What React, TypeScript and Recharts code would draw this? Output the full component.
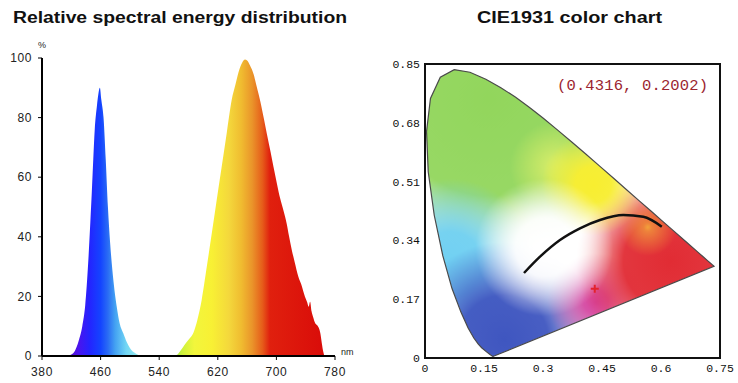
import React from 'react';
import {
  Area,
  ComposedChart,
  Line,
  ReferenceArea,
  Scatter,
  XAxis,
  YAxis,
} from 'recharts';

// spectral power distribution (nm, relative %)
const SPEC_NM = [
  380, 410, 415, 420, 425, 430, 435, 439, 443, 446, 448, 450, 452, 455, 457, 459, 461, 464, 467,
  470, 473, 476, 479, 482, 486, 491, 496, 502, 508, 515, 560, 565, 568, 572, 577, 582, 587, 592,
  598, 605, 612, 618, 625, 632, 639, 644, 648, 652, 657, 660, 664, 669, 673, 678, 683, 687, 692,
  696, 701, 705, 710, 714, 717, 721, 725, 730, 734, 739, 742, 744, 746, 748, 750, 753, 756, 760,
  762, 764, 766, 780,
];
const SPEC_VAL = [
  0, 0, 0, 0.5, 1.8, 5, 10, 17, 31, 45, 55, 66, 76, 84, 88, 90, 86, 80, 66,
  50, 38, 29, 22, 16.6, 11, 7.6, 4.5, 2, 0.8, 0, 0, 0.5, 1.4, 2.8, 4.5, 6, 8, 12,
  18.8, 30, 41.5, 51.5, 63, 74.5, 86, 91, 95, 97.8, 99.5, 99.2, 97.5, 94.5, 90.5, 85.5, 79.5, 74.5, 68.5,
  63.5, 57.5, 53, 48.5, 44.5, 40.5, 35.6, 31.5, 26.6, 24, 19.9, 18, 16.5, 18.2, 15, 13.2, 11, 10.2, 7.6,
  4.3, 1.4, 0, 0,
];
const SPEC_TICKS = [380, 460, 540, 620, 700, 780];
const PCT_TICKS = [0, 20, 40, 60, 80, 100];

// CIE 1931 spectral locus
const LOCUS_X = [
  0.1741, 0.1738, 0.1733, 0.1726, 0.1714, 0.1689, 0.1644, 0.1566, 0.144, 0.1355, 0.1241, 0.1096,
  0.0913, 0.0687, 0.0454, 0.0235, 0.0082, 0.0039, 0.0139, 0.0389, 0.0743, 0.1142, 0.1547, 0.1929,
  0.2296, 0.2658, 0.3016, 0.3373, 0.3731, 0.4087, 0.4441, 0.4788, 0.5125, 0.5448, 0.5752, 0.6029,
  0.627, 0.6658, 0.6915, 0.7079, 0.719, 0.726, 0.73, 0.7334, 0.7347,
];
const LOCUS_Y = [
  0.005, 0.0049, 0.0048, 0.0048, 0.0051, 0.0069, 0.0109, 0.0177, 0.0297, 0.0399, 0.0578, 0.0868,
  0.1327, 0.2007, 0.295, 0.4127, 0.5384, 0.6548, 0.7502, 0.812, 0.8338, 0.8262, 0.8059, 0.7816,
  0.7543, 0.7243, 0.6923, 0.6589, 0.6245, 0.5896, 0.5547, 0.5202, 0.4866, 0.4544, 0.4242, 0.3965,
  0.3725, 0.334, 0.3083, 0.292, 0.2809, 0.274, 0.27, 0.2666, 0.2653,
];

// black locus curve
const CURVE_X = [0.2517, 0.2924, 0.3432, 0.394, 0.4449, 0.504, 0.555, 0.602];
const CURVE_Y = [0.2457, 0.2929, 0.3412, 0.375, 0.399, 0.4134, 0.4085, 0.3797];

const POINT_X = 0.4316;
const POINT_Y = 0.2002;

const CIE_X_TICKS = [0, 0.15, 0.3, 0.45, 0.6, 0.75];
const CIE_Y_TICKS = [0, 0.17, 0.34, 0.51, 0.68, 0.85];

const specData = SPEC_NM.map((nm, i) => ({ nm, val: SPEC_VAL[i] }));
const locusData = LOCUS_X.map((x, i) => ({ x, y: LOCUS_Y[i] }));
const curveData = CURVE_X.map((x, i) => ({ x, y: CURVE_Y[i] }));
const pointData = [{ x: POINT_X, y: POINT_Y }];

const specStops: [number, string][] = [
  [415, '#5a10c8'],
  [430, '#4a14ee'],
  [445, '#2424ff'],
  [460, '#1444ff'],
  [470, '#2a6cf4'],
  [480, '#44a2f2'],
  [495, '#72d6f4'],
  [510, '#92e8f0'],
  [560, '#9cec48'],
  [572, '#cff23c'],
  [588, '#f2f63c'],
  [612, '#f8f034'],
  [635, '#f4d83c'],
  [652, '#f0bc30'],
  [667, '#ea942a'],
  [681, '#e65c1a'],
  [691, '#e0200e'],
  [780, '#d80808'],
];

// colour blobs for the chromaticity diagram, in bounding-box units
const blobs = [
  { id: 'g', cx: 0.22, cy: 0.1, r: 0.55, c: '#92d65c', hold: 0.62, op: 0.95 },
  { id: 'gy', cx: 0.45, cy: 0.34, r: 0.16, c: '#d4ec68', hold: 0.2, op: 0.9 },
  { id: 'c', cx: 0.08, cy: 0.68, r: 0.3, c: '#70d0f2', hold: 0.38, op: 0.95 },
  { id: 'b', cx: 0.27, cy: 0.94, r: 0.34, c: '#3f56c0', hold: 0.45, op: 0.95 },
  { id: 'm', cx: 0.59, cy: 0.81, r: 0.17, c: '#d6429e', hold: 0.25, op: 0.9 },
  { id: 'r', cx: 0.85, cy: 0.67, r: 0.33, c: '#e12c34', hold: 0.5, op: 0.95 },
  { id: 'y', cx: 0.58, cy: 0.4, r: 0.18, c: '#f8ee30', hold: 0.35, op: 0.95 },
  { id: 'o', cx: 0.77, cy: 0.55, r: 0.1, c: '#f2a23a', hold: 0.15, op: 0.7 },
  { id: 'w', cx: 0.41, cy: 0.62, r: 0.24, c: '#ffffff', hold: 0.42, op: 0.92 },
];

const tickFont = { fontSize: 12, fill: '#222', fontFamily: 'Liberation Sans, Arial, sans-serif', letterSpacing: 0.6 };
const cieFont = { fontSize: 11.5, fill: '#111', fontFamily: 'Liberation Mono, monospace' };

const PlusMark = (props: any) => {
  const { cx, cy } = props;
  return (
    <path
      d={`M${cx - 4},${cy}H${cx + 4}M${cx},${cy - 4}V${cy + 4}`}
      stroke="#e3222c"
      strokeWidth={2}
    />
  );
};

export default function App() {
  return (
    <div style={{ position: 'absolute', left: 0, top: 0, width: 738, height: 383, background: '#fff' }}>
      <style>{`.cie-locus path { fill: url(#cieFill) !important; }`}</style>

      <div style={{ position: 'absolute', left: 0, top: 0 }}>
        <ComposedChart width={369} height={383} data={specData} margin={{ top: 58, right: 34, bottom: 7, left: 12 }}>
          <defs>
            <linearGradient id="specGrad" x1="0" y1="0" x2="1" y2="0">
              {specStops.map(([nm, c]) => (
                <stop key={nm} offset={(nm - 380) / 400} stopColor={c} />
              ))}
            </linearGradient>
          </defs>
          <XAxis
            dataKey="nm"
            type="number"
            domain={[380, 780]}
            ticks={SPEC_TICKS}
            height={20}
            tick={tickFont}
            tickSize={4}
            tickMargin={7}
            axisLine={{ stroke: '#000', strokeWidth: 2 }}
            tickLine={{ stroke: '#000' }}
          />
          <YAxis
            type="number"
            domain={[0, 100]}
            ticks={PCT_TICKS}
            width={30}
            tick={tickFont}
            tickSize={4}
            tickMargin={6}
            axisLine={{ stroke: '#000', strokeWidth: 2 }}
            tickLine={{ stroke: '#000' }}
          />
          <Area
            dataKey="val"
            type="monotone"
            fill="url(#specGrad)"
            fillOpacity={1}
            stroke="none"
            isAnimationActive={false}
          />
        </ComposedChart>
      </div>

      <div style={{ position: 'absolute', left: 369, top: 0 }}>
        <ComposedChart width={369} height={383} margin={{ top: 64, right: 18, bottom: 7, left: 26 }}>
          <defs>
            {blobs.map((b) => (
              <radialGradient key={b.id} id={`blob-${b.id}`} cx={b.cx} cy={b.cy} r={b.r}>
                <stop offset={0} stopColor={b.c} stopOpacity={1} />
                <stop offset={b.hold} stopColor={b.c} stopOpacity={b.op} />
                <stop offset={1} stopColor={b.c} stopOpacity={0} />
              </radialGradient>
            ))}
            <pattern id="cieFill" patternUnits="objectBoundingBox" patternContentUnits="objectBoundingBox" width="1" height="1">
              <rect x="0" y="0" width="1" height="1" fill="#ffffff" />
              {blobs.map((b) => (
                <rect key={b.id} x="0" y="0" width="1" height="1" fill={`url(#blob-${b.id})`} />
              ))}
            </pattern>
          </defs>
          <XAxis
            dataKey="x"
            type="number"
            domain={[0, 0.75]}
            ticks={CIE_X_TICKS}
            height={18}
            tick={cieFont}
            tickSize={0}
            tickMargin={6}
            axisLine={false}
            tickLine={false}
          />
          <YAxis
            dataKey="y"
            type="number"
            domain={[0, 0.85]}
            ticks={CIE_Y_TICKS}
            width={30}
            tick={cieFont}
            tickSize={0}
            tickMargin={5}
            axisLine={false}
            tickLine={false}
          />
          <Line
            className="cie-locus"
            data={locusData}
            dataKey="y"
            type="linearClosed"
            stroke="#4a4a4a"
            strokeWidth={1.2}
            dot={false}
            activeDot={false}
            isAnimationActive={false}
          />
          <Line
            data={curveData}
            dataKey="y"
            type="monotone"
            stroke="#111"
            strokeWidth={2.5}
            dot={false}
            activeDot={false}
            isAnimationActive={false}
          />
          <Scatter data={pointData} dataKey="y" shape={PlusMark} isAnimationActive={false} />
          <ReferenceArea
            x1={0}
            x2={0.75}
            y1={0}
            y2={0.85}
            fill="none"
            fillOpacity={0}
            stroke="#111"
            strokeWidth={2}
            ifOverflow="visible"
          />
        </ComposedChart>
      </div>

      <svg
        width={738}
        height={383}
        style={{ position: 'absolute', left: 0, top: 0, pointerEvents: 'none' }}
      >
        <text
          x={13}
          y={23}
          fontFamily="Liberation Sans, Arial, sans-serif"
          fontWeight="bold"
          fontSize={16}
          textLength={334}
          lengthAdjust="spacingAndGlyphs"
          fill="#111"
        >
          Relative spectral energy distribution
        </text>
        <text
          x={477}
          y={23}
          fontFamily="Liberation Sans, Arial, sans-serif"
          fontWeight="bold"
          fontSize={16}
          textLength={185}
          lengthAdjust="spacingAndGlyphs"
          fill="#111"
        >
          CIE1931 color chart
        </text>
        <text x={38} y={48} fontFamily="Liberation Sans, Arial, sans-serif" fontSize={9} fill="#222">
          %
        </text>
        <text x={341} y={355} fontFamily="Liberation Sans, Arial, sans-serif" fontSize={9} fill="#222">
          nm
        </text>
        <text
          x={557}
          y={90}
          fontFamily="Liberation Mono, monospace"
          fontSize={15.5}
          textLength={151}
          lengthAdjust="spacing"
          fill="#9b2530"
        >
          (0.4316, 0.2002)
        </text>
      </svg>
    </div>
  );
}
